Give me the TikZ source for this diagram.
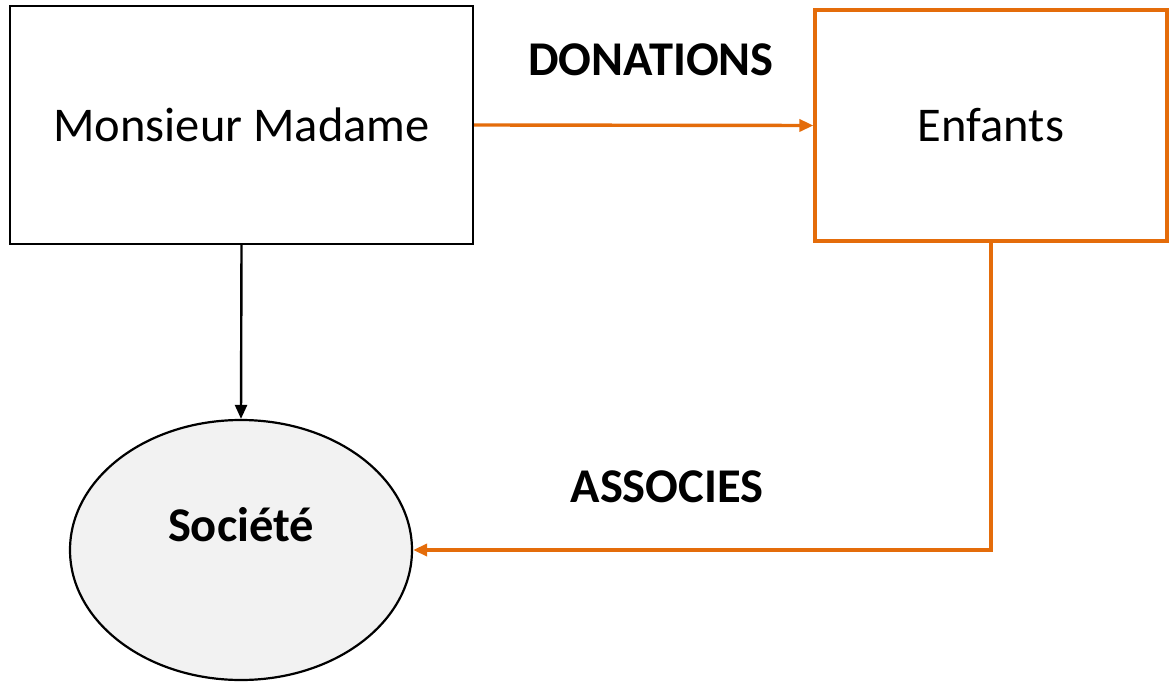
\documentclass[tikz,border=0pt]{standalone}
\usepackage{fontspec}
\setmainfont{Carlito}
\usetikzlibrary{arrows.meta,shapes.geometric}
\definecolor{orng}{RGB}{228,108,10}
\definecolor{softgray}{RGB}{242,242,242}
\begin{document}
\begin{tikzpicture}[x=1pt,y=-1pt,
  bigtext/.style={font=\fontsize{48.5}{58}\selectfont},
  boldtext/.style={font=\fontsize{48.5}{58}\selectfont\bfseries},
  blackbox/.style={draw=black,line width=2.2pt,minimum width=463pt,minimum height=238pt,inner sep=0pt,bigtext},
  orangebox/.style={draw=orng,line width=3.2pt,minimum width=352pt,minimum height=231pt,inner sep=0pt,bigtext},
  blackarrow/.style={draw=black,line width=2.4pt,-{Triangle[length=14pt,width=12pt]}},
  orangearrow/.style={draw=orng,line width=3.4pt,-{Triangle[length=14pt,width=12pt]}}
]
\useasboundingbox (0,0) rectangle (1169,684);
\node[blackbox] (mm) at (241.5,125) {Monsieur Madame};
\node[orangebox] (enf) at (991,125.5) {Enfants};
\node[ellipse,draw=black,line width=2.2pt,fill=softgray,minimum width=342pt,minimum height=260pt,inner sep=0pt] (soc) at (241,550) {};
\node[boldtext] (soctext) at (241,525) {Société};
\node[boldtext] (don) at (651,60) {DONATIONS};
\node[boldtext] (ass) at (667,487) {ASSOCIES};
\draw[blackarrow] (mm.south) -- (soc.north);
\draw[orangearrow] (mm.east) -- (enf.west);
\draw[orangearrow] (enf.south) |- (soc.east);
\end{tikzpicture}
\end{document}
